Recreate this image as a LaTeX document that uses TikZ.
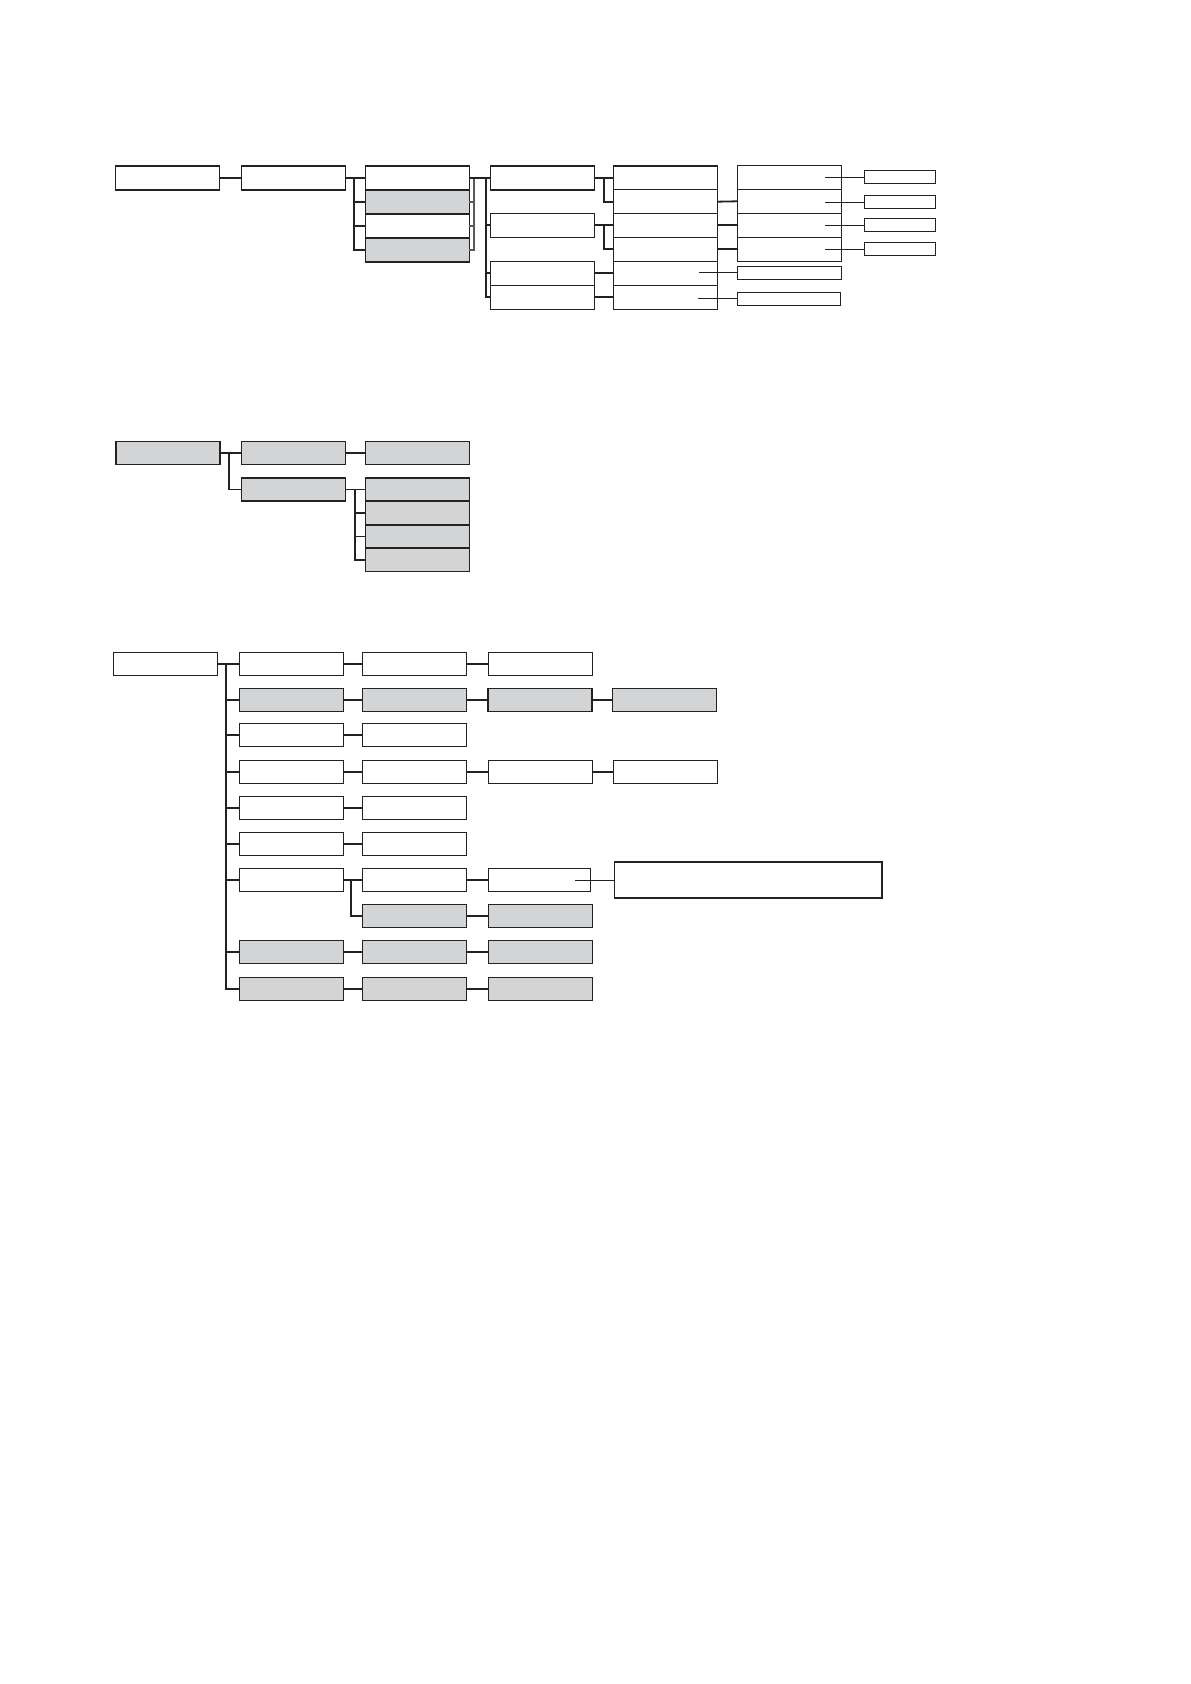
\documentclass[tikz,border=0pt]{standalone}
\usepackage{xcolor}
\usepackage{tikz}
\usetikzlibrary{positioning}
\definecolor{boxgray}{HTML}{D3D4D6}
\definecolor{linegray}{HTML}{222222}

\begin{document}
\begin{tikzpicture}[
  x=0.5pt, y=-0.5pt,
  box/.style={draw=linegray, line width=0.55pt, fill=white, minimum width=52pt, minimum height=12pt, inner sep=0pt, outer sep=0pt},
  shaded/.style={box, fill=boxgray},
  lowbox/.style={box, minimum height=11.5pt},
  lowshaded/.style={shaded, minimum height=11.5pt},
  tag/.style={draw=linegray, line width=0.55pt, fill=white, minimum width=35.5pt, minimum height=6.5pt, inner sep=0pt, outer sep=0pt},
  conn/.style={line width=0.9pt, color=linegray},
  fine/.style={line width=0.45pt, color=linegray}
]
  \useasboundingbox (0,0) rectangle (1190,1684);

  % --- top tree
  \node[box] (t1) at (167.3,178) {};
  \node[box] (t2) at (293.3,178) {};
  \node[box] (t3a) at (417.3,178) {};
  \node[shaded] (t3b) at (417.3,202) {};
  \node[box] (t3c) at (417.3,226) {};
  \node[shaded] (t3d) at (417.3,250) {};
  \node[box] (t4a) at (542.3,178) {};
  \node[box] (t4b) at (542.3,225.3) {};
  \node[box] (t4c) at (542.3,273.3) {};
  \node[box] (t4d) at (542.3,297.3) {};
  \node[box] (t5a) at (665.3,178) {};
  \node[box] (t5b) at (665.3,201.7) {};
  \node[box] (t5c) at (665.3,225.3) {};
  \node[box] (t5d) at (665.3,249.3) {};
  \node[box] (t5e) at (665.3,273.3) {};
  \node[box] (t5f) at (665.3,297.3) {};
  \node[box] (t6a) at (789.3,177.3) {};
  \node[box] (t6b) at (789.3,201.3) {};
  \node[box] (t6c) at (789.3,225.3) {};
  \node[box] (t6d) at (789.3,249.3) {};
  \node[tag, minimum width=52pt] (t6e) at (789.3,272.8) {};
  \node[tag, minimum width=51.7pt] (t6f) at (789,298.8) {};
  \node[tag] (t7a) at (899.8,177.3) {};
  \node[tag] (t7b) at (899.8,202.3) {};
  \node[tag] (t7c) at (899.8,225.3) {};
  \node[tag] (t7d) at (899.8,249.3) {};

  \coordinate (ja) at (354,178);
  \coordinate (jb) at (474,178);
  \coordinate (jc) at (486,178);
  \coordinate (jd) at (604,178);
  \coordinate (je) at (604,225.3);

  \draw[conn] (t1) -- (t2);
  \draw[conn] (t2.east) -- (t3a.west);
  \draw[conn] (ja) |- (t3b.west);
  \draw[conn] (ja) |- (t3c.west);
  \draw[conn] (ja) |- (t3d.west);
  \draw[conn, color=black!65, line width=0.7pt] (t3b.east) -| (jb);
  \draw[conn, color=black!65, line width=0.7pt] (t3c.east) -- (jb |- t3c.east);
  \draw[conn, color=black!65, line width=0.7pt] (t3d.east) -| (jb);
  \draw[conn] (t3a.east) -- (t4a.west);
  \draw[conn] (jc) |- (t4b.west);
  \draw[conn] (jc) |- (t4c.west);
  \draw[conn] (jc) |- (t4d.west);
  \draw[conn] (t4a.east) -- (t5a.west);
  \draw[conn] (jd) |- (t5b.west);
  \draw[conn] (t4b.east) -- (t5c.west);
  \draw[conn] (je) |- (t5d.west);
  \draw[conn] (t4c.east) -- (t5e.west);
  \draw[conn] (t4d.east) -- (t5f.west);
  \draw[conn] (t5b.east) -- (t6b.west);
  \draw[conn] (t5c.east) -- (t6c.west);
  \draw[conn] (t5d.east) -- (t6d.west);
  \draw[fine] ([xshift=-8pt]t6a.east) -- (t7a.west);
  \draw[fine] ([xshift=-8pt]t6b.east |- t7b.west) -- (t7b.west);
  \draw[fine] ([xshift=-8pt]t6c.east) -- (t7c.west);
  \draw[fine] ([xshift=-8pt]t6d.east) -- (t7d.west);
  \draw[fine] ([xshift=-9pt]t5e.east |- t6e.west) -- (t6e.west);
  \draw[fine] ([xshift=-9.5pt]t5f.east |- t6f.west) -- (t6f.west);

  % --- middle tree
  \node[lowshaded] (m1) at (168,453.3) {};
  \node[lowshaded] (m2a) at (293.5,453.3) {};
  \node[lowshaded] (m2b) at (293.5,489.5) {};
  \node[lowshaded] (m3a) at (417.3,453.3) {};
  \node[lowshaded] (m3b) at (417.3,489.5) {};
  \node[lowshaded] (m3c) at (417.3,513) {};
  \node[lowshaded] (m3d) at (417.3,536.5) {};
  \node[lowshaded] (m3e) at (417.3,560) {};

  \coordinate (jf) at (228.7,453.3);
  \coordinate (jg) at (355.3,489.5);

  \draw[conn] (m1) -- (m2a);
  \draw[conn] (jf) |- (m2b.west);
  \draw[conn] (m2a) -- (m3a);
  \draw[conn] (m2b.east) -- (m3b.west);
  \draw[conn] (jg) |- (m3c.west);
  \draw[conn] (jg) |- (m3d.west);
  \draw[conn] (jg) |- (m3e.west);

  % --- bottom tree
  \node[lowbox] (b1) at (165.3,664) {};
  \node[lowbox] (b2a) at (291.5,664) {};
  \node[lowbox] (b3a) at (414.5,664) {};
  \node[lowbox] (b4a) at (540.4,664) {};
  \node[lowshaded] (b2b) at (291.5,700) {};
  \node[lowshaded] (b3b) at (414.5,700) {};
  \node[lowshaded] (b4b) at (540,700) {};
  \node[lowshaded] (b5b) at (664.5,700) {};
  \node[lowbox] (b2c) at (291.5,735) {};
  \node[lowbox] (b3c) at (414.5,735) {};
  \node[lowbox] (b2d) at (291.5,772) {};
  \node[lowbox] (b3d) at (414.5,772) {};
  \node[lowbox] (b4d) at (540.4,772) {};
  \node[lowbox] (b5d) at (665.5,772) {};
  \node[lowbox] (b2e) at (291.5,808) {};
  \node[lowbox] (b3e) at (414.5,808) {};
  \node[lowbox] (b2f) at (291.5,844) {};
  \node[lowbox] (b3f) at (414.5,844) {};
  \node[lowbox] (b2g) at (291.5,880) {};
  \node[lowbox] (b3g) at (414.5,880) {};
  \node[lowbox, minimum width=51pt] (b4g) at (539.3,880) {};
  \node[draw=linegray, line width=0.55pt, minimum width=133.8pt, minimum height=18pt, inner sep=0pt, outer sep=0pt] (note) at (748.2,880) {};
  \node[lowshaded] (b3h) at (414.5,916) {};
  \node[lowshaded] (b4h) at (540.3,916) {};
  \node[lowshaded] (b2i) at (291.5,952) {};
  \node[lowshaded] (b3i) at (414.5,952) {};
  \node[lowshaded] (b4i) at (540.3,952) {};
  \node[lowshaded] (b2j) at (291.5,989) {};
  \node[lowshaded] (b3j) at (414.5,989) {};
  \node[lowshaded] (b4j) at (540.3,989) {};

  \coordinate (jh) at (226,664);
  \coordinate (ji) at (350.7,880);

  \draw[conn] (b1) -- (b2a);
  \draw[conn] (jh) |- (b2b.west);
  \draw[conn] (jh) |- (b2c.west);
  \draw[conn] (jh) |- (b2d.west);
  \draw[conn] (jh) |- (b2e.west);
  \draw[conn] (jh) |- (b2f.west);
  \draw[conn] (jh) |- (b2g.west);
  \draw[conn] (jh) |- (b2i.west);
  \draw[conn] (jh) |- (b2j.west);
  \draw[conn] (b2a) -- (b3a);
  \draw[conn] (b3a) -- (b4a);
  \draw[conn] (b2b) -- (b3b);
  \draw[conn] (b3b) -- (b4b);
  \draw[conn] (b4b) -- (b5b);
  \draw[conn] (b2c) -- (b3c);
  \draw[conn] (b2d) -- (b3d);
  \draw[conn] (b3d) -- (b4d);
  \draw[conn] (b4d) -- (b5d);
  \draw[conn] (b2e) -- (b3e);
  \draw[conn] (b2f) -- (b3f);
  \draw[conn] (b2g) -- (b3g);
  \draw[conn] (ji) |- (b3h.west);
  \draw[conn] (b3g) -- (b4g);
  \draw[conn] (b3h) -- (b4h);
  \draw[fine] ([xshift=-7.5pt]b4g.east) -- (note.west);
  \draw[conn] (b2i) -- (b3i);
  \draw[conn] (b3i) -- (b4i);
  \draw[conn] (b2j) -- (b3j);
  \draw[conn] (b3j) -- (b4j);
\end{tikzpicture}
\end{document}
